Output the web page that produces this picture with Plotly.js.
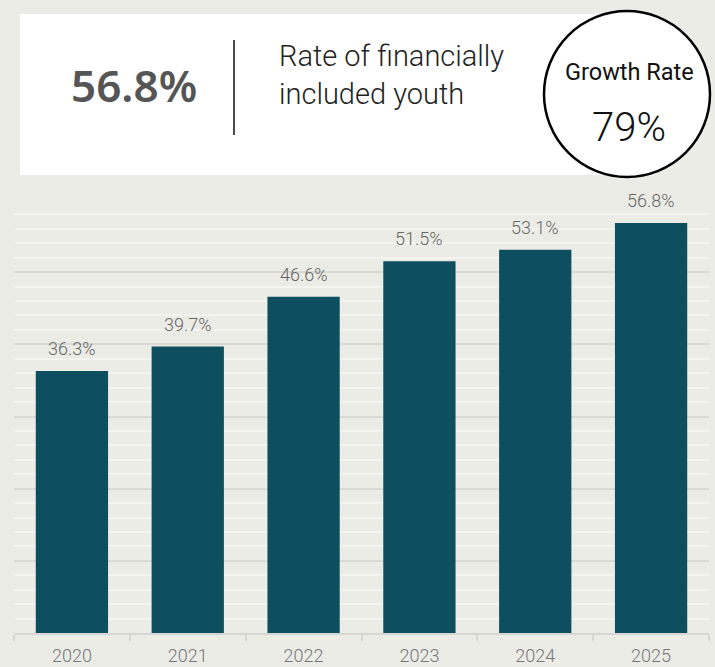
<!DOCTYPE html>
<html>
<head>
<meta charset="utf-8">
<script src="https://cdn.plot.ly/plotly-3.0.1.min.js"></script>
<style>html,body{margin:0;padding:0;background:#ECECE7;}#chart{width:715px;height:667px;}</style>
</head>
<body>
<div id="chart"></div>
<script>
// Data
const years = ["2020", "2021", "2022", "2023", "2024", "2025"];
const rates = [36.3, 39.7, 46.6, 51.5, 53.1, 56.8];
const headlineValue = "56.8%";
const headlineLabel = ["Rate of financially", "included youth"];
const growthLabel = "Growth Rate";
const growthValue = "79%";

// pixel -> paper helpers (plot area: x 14..709, y 200..633)
const L = 14, R = 709, T = 200, B = 633;
const px = x => (x - L) / (R - L);
const py = y => (B - y) / (B - T);

const trace = {
  type: "bar",
  x: years,
  y: rates,
  marker: {color: "#0D4F5E"},
  hoverinfo: "skip"
};

const valueAnns = years.map((yr, i) => ({
  x: i, y: rates[i], xref: "x", yref: "y",
  text: rates[i].toFixed(1) + "%",
  showarrow: false, xanchor: "center", yanchor: "bottom", yshift: 10,
  font: {family: "Roboto", size: 18, color: "#666666", weight: 300}
}));

const headerAnns = [
  {x: px(134), y: py(85), text: headlineValue, xanchor: "center", yanchor: "middle",
   font: {family: "Noto Sans", size: 44, color: "#555555", weight: 600}},
  {x: px(277), y: py(56), text: headlineLabel[0], xanchor: "left", yanchor: "middle",
   font: {family: "Roboto", size: 29, color: "#222222", weight: 300}},
  {x: px(277), y: py(94), text: headlineLabel[1], xanchor: "left", yanchor: "middle",
   font: {family: "Roboto", size: 29, color: "#222222", weight: 300}},
  {x: px(629), y: py(72), text: growthLabel, xanchor: "center", yanchor: "middle",
   font: {family: "Roboto", size: 23.5, color: "#111111", weight: 400}},
  {x: px(629), y: py(128), text: growthValue, xanchor: "center", yanchor: "middle",
   font: {family: "Roboto", size: 40, color: "#111111", weight: 300}}
].map(a => Object.assign({xref: "paper", yref: "paper", showarrow: false}, a));

const layout = {
  width: 715, height: 667,
  margin: {l: L, r: 715 - R, t: T, b: 667 - B, pad: 0},
  paper_bgcolor: "#ECECE7",
  plot_bgcolor: "#ECECE7",
  showlegend: false,
  bargap: 0.376,
  xaxis: {
    type: "category",
    range: [-0.5, years.length - 0.5],
    autorange: false,
    showline: true, linecolor: "#D6D6D2", linewidth: 2,
    ticks: "outside", tickson: "boundaries", ticklen: 6, tickcolor: "#D6D6D2", tickwidth: 2,
    ticklabelstandoff: 5,
    tickfont: {family: "Roboto", size: 18, color: "#777777", weight: 300},
    showgrid: false, fixedrange: true
  },
  yaxis: {
    range: [0, 60],
    autorange: false,
    dtick: 10,
    showticklabels: false,
    showgrid: true, gridcolor: "#D9D9D5", gridwidth: 2,
    zeroline: false,
    minor: {dtick: 2, showgrid: true, gridcolor: "#F4F4F1", gridwidth: 2},
    fixedrange: true
  },
  shapes: [
    {type: "rect", xref: "paper", yref: "paper",
     x0: px(20), x1: px(630), y0: py(175), y1: py(14),
     fillcolor: "#FFFFFF", line: {width: 0}, layer: "above"},
    {type: "line", xref: "paper", yref: "paper",
     x0: px(234), x1: px(234), y0: py(135), y1: py(40),
     line: {color: "#111111", width: 1.5}, layer: "above"},
    {type: "circle", xref: "paper", yref: "paper",
     x0: px(544), x1: px(710), y0: py(177), y1: py(11),
     fillcolor: "#FFFFFF", line: {color: "#000000", width: 2.5}, layer: "above"}
  ],
  annotations: valueAnns.concat(headerAnns)
};

Plotly.newPlot("chart", [trace], layout, {displayModeBar: false, staticPlot: true});
</script>
</body>
</html>
